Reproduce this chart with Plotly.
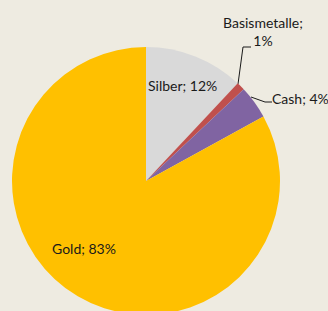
import plotly.graph_objects as go

labels = ["Silber", "Basismetalle", "Cash", "Gold"]
values = [12, 1, 4, 83]
colors = ["#D9D9D9", "#C0504D", "#8064A2", "#FFC000"]

W, H = 328, 316
BG = "#EEEBE1"
FONT = dict(family="Lato, 'Open Sans', sans-serif", size=14, color="#1a1a1a")

fig = go.Figure(go.Pie(
    labels=labels, values=values, sort=False, direction="clockwise", rotation=0,
    marker=dict(colors=colors, line=dict(width=0)),
    textinfo="none", hoverinfo="label+percent", showlegend=False,
    domain=dict(x=[12 / W, 280 / W], y=[1 / H, 269 / H]),
))

texts = {lab: f"{lab}; {v}%" for lab, v in zip(labels, values)}
anns = []
for lab, (x, y) in {"Silber": (182, 85), "Gold": (84, 248), "Cash": (300, 98)}.items():
    anns.append(dict(x=x, y=y, xref="x", yref="y", text=texts[lab],
                     xanchor="center", yanchor="middle", showarrow=False, font=FONT))
anns.append(dict(x=263, y=31, xref="x", yref="y",
                 text=f"{labels[1]};<br>{values[1]}%", xanchor="center", yanchor="middle",
                 showarrow=False, font=FONT))

fig.update_layout(
    width=W, height=H, margin=dict(l=0, r=0, t=0, b=0),
    paper_bgcolor=BG, plot_bgcolor="rgba(0,0,0,0)", annotations=anns,
    xaxis=dict(visible=False, range=[0, W], domain=[0, 1], fixedrange=True),
    yaxis=dict(visible=False, range=[H, 0], domain=[0, 1], fixedrange=True),
)
# leader lines
fig.add_trace(go.Scatter(x=[238, 243, 251], y=[84, 47, 47], mode="lines",
                         line=dict(color="#1a1a1a", width=1), hoverinfo="skip", showlegend=False))
fig.add_trace(go.Scatter(x=[251, 265, 272], y=[97, 102, 102], mode="lines",
                         line=dict(color="#1a1a1a", width=1), hoverinfo="skip", showlegend=False))

fig.write_html("out.html", config={"displayModeBar": False},
               post_script="document.body.style.margin='0';document.body.style.overflow='hidden';document.documentElement.style.overflow='hidden';")
